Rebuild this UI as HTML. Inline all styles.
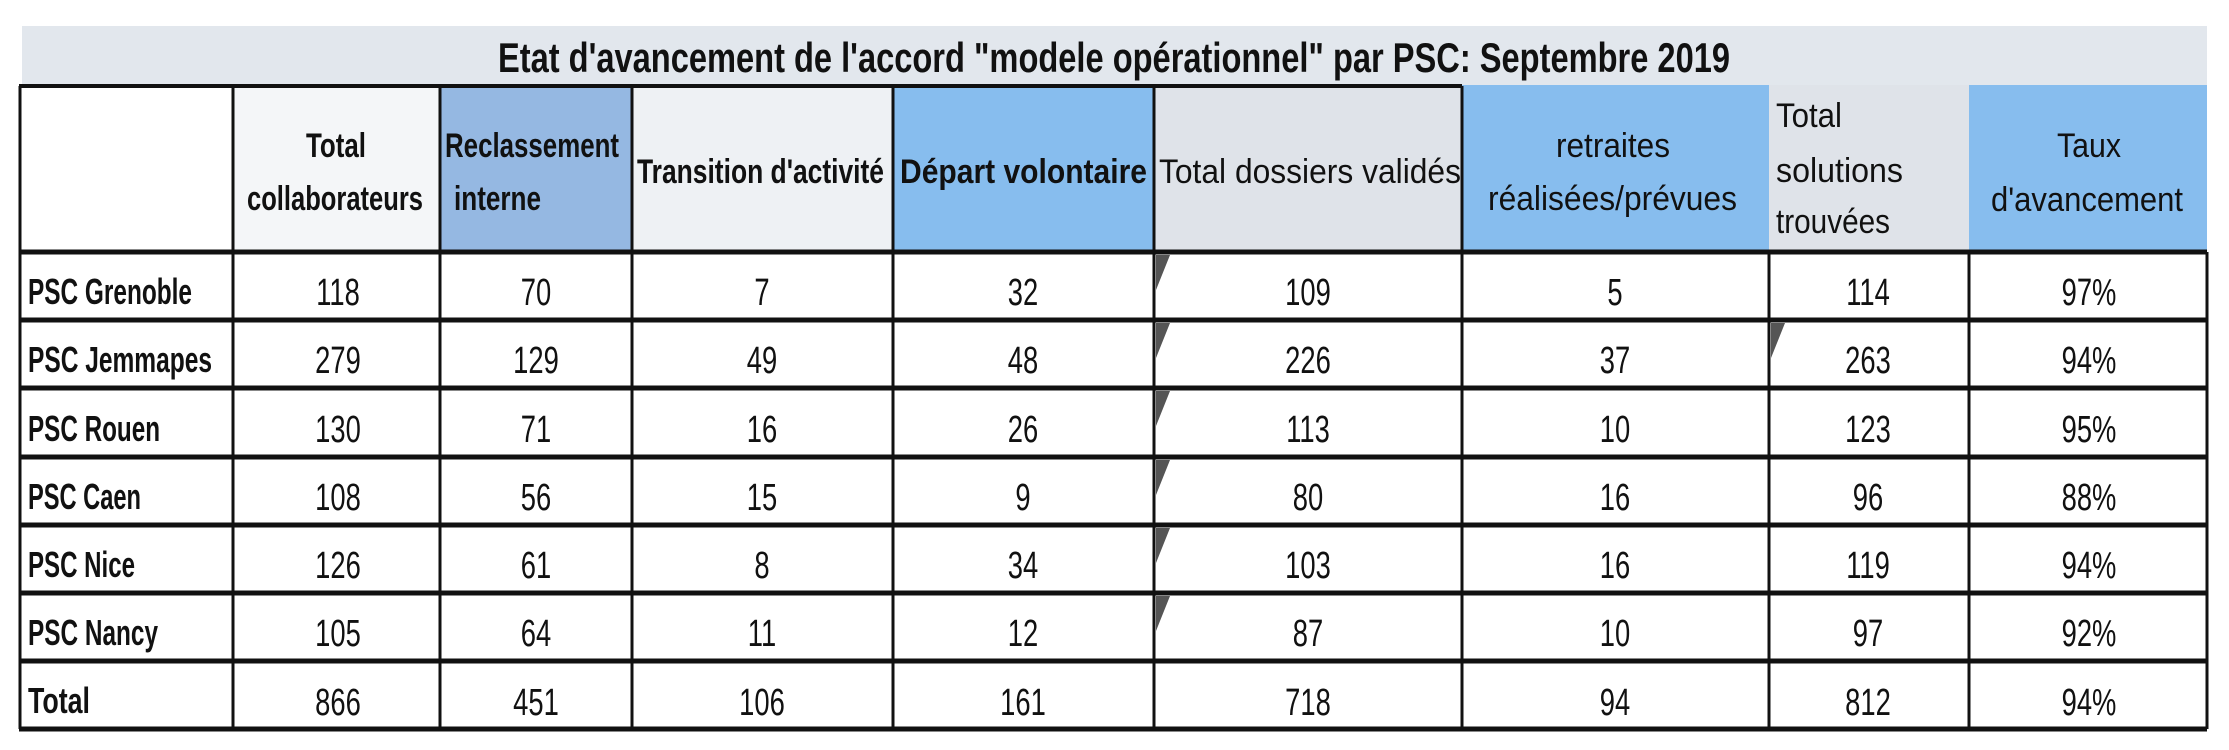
<!DOCTYPE html>
<html><head><meta charset="utf-8"><style>
html,body{margin:0;padding:0;background:#fff;}
svg{display:block;}
text{font-family:"Liberation Sans Narrow","Liberation Sans",sans-serif;fill:#111;}
.b{font-weight:bold;}
</style></head><body>
<svg width="2229" height="750" viewBox="0 0 2229 750" xmlns="http://www.w3.org/2000/svg">
<!-- title band -->
<rect x="22" y="26" width="2185" height="60" fill="#e2e7ed"/>
<text class="b" x="498" y="72" font-size="42" textLength="1232" lengthAdjust="spacingAndGlyphs">Etat d'avancement de l'accord "modele opérationnel" par PSC: Septembre 2019</text>
<!-- header fills -->
<rect x="20" y="85" width="213" height="167" fill="#fff"/>
<rect x="233" y="85" width="206" height="167" fill="#f4f6f8"/>
<rect x="439" y="85" width="193" height="167" fill="#95b8e2"/>
<rect x="632" y="85" width="261" height="167" fill="#eef1f4"/>
<rect x="893" y="85" width="261" height="167" fill="#87bdee"/>
<rect x="1154" y="85" width="308" height="167" fill="#dfe3e9"/>
<rect x="1462" y="85" width="307" height="167" fill="#87bdee"/>
<rect x="1769" y="85" width="200" height="167" fill="#dfe3e9"/>
<rect x="1969" y="85" width="238" height="167" fill="#87bdee"/>
<!-- grid -->
<g stroke="#111" stroke-width="3" fill="none">
<line x1="19" y1="86" x2="1462" y2="86" stroke-width="4"/>
<line x1="19" y1="252" x2="2207" y2="252" stroke-width="5"/>
<line x1="19" y1="320" x2="2207" y2="320" stroke-width="5"/>
<line x1="19" y1="388" x2="2207" y2="388" stroke-width="5"/>
<line x1="19" y1="457" x2="2207" y2="457" stroke-width="5"/>
<line x1="19" y1="525" x2="2207" y2="525" stroke-width="5"/>
<line x1="19" y1="593" x2="2207" y2="593" stroke-width="5"/>
<line x1="19" y1="661" x2="2207" y2="661" stroke-width="5"/>
<line x1="19" y1="729" x2="2207" y2="729" stroke-width="5"/>
<line x1="20" y1="86" x2="20" y2="729"/>
<line x1="233" y1="86" x2="233" y2="729"/>
<line x1="440" y1="86" x2="440" y2="729"/>
<line x1="632" y1="86" x2="632" y2="729"/>
<line x1="893" y1="86" x2="893" y2="729"/>
<line x1="1154" y1="86" x2="1154" y2="729"/>
<line x1="1462" y1="86" x2="1462" y2="729"/>
<line x1="1769" y1="252" x2="1769" y2="729"/>
<line x1="1969" y1="252" x2="1969" y2="729"/>
<line x1="2207" y1="252" x2="2207" y2="729"/>
</g>
<!-- comment triangles -->
<g fill="#555">
<polygon points="1156,255 1170,255 1156,290"/>
<polygon points="1156,323 1170,323 1156,358"/>
<polygon points="1156,391 1170,391 1156,426"/>
<polygon points="1156,460 1170,460 1156,495"/>
<polygon points="1156,528 1170,528 1156,563"/>
<polygon points="1156,596 1170,596 1156,631"/>
<polygon points="1771,323 1785,323 1771,358"/>
</g>
<!-- header text -->
<g class="b" font-size="34">
<text class="b" x="306" y="157" textLength="60" lengthAdjust="spacingAndGlyphs">Total</text>
<text class="b" x="247" y="210" textLength="176" lengthAdjust="spacingAndGlyphs">collaborateurs</text>
<text class="b" x="445" y="157" textLength="174" lengthAdjust="spacingAndGlyphs">Reclassement</text>
<text class="b" x="454" y="210" textLength="87" lengthAdjust="spacingAndGlyphs">interne</text>
<text class="b" x="637" y="183" textLength="247" lengthAdjust="spacingAndGlyphs">Transition d'activité</text>
<text class="b" x="900" y="183" textLength="247" lengthAdjust="spacingAndGlyphs">Départ volontaire</text>
</g>
<g font-size="34">
<text x="1159" y="183" textLength="302" lengthAdjust="spacingAndGlyphs">Total dossiers validés</text>
<text x="1556" y="157" textLength="114" lengthAdjust="spacingAndGlyphs">retraites</text>
<text x="1488" y="210" textLength="249" lengthAdjust="spacingAndGlyphs">réalisées/prévues</text>
<text x="1776" y="127" textLength="66" lengthAdjust="spacingAndGlyphs">Total</text>
<text x="1776" y="182" textLength="127" lengthAdjust="spacingAndGlyphs">solutions</text>
<text x="1776" y="233" textLength="114" lengthAdjust="spacingAndGlyphs">trouvées</text>
<text x="2057" y="157" textLength="64" lengthAdjust="spacingAndGlyphs">Taux</text>
<text x="1991" y="211" textLength="192" lengthAdjust="spacingAndGlyphs">d'avancement</text>
</g>
<!-- row labels -->
<g font-size="36">
<text class="b" x="28" y="304" textLength="164" lengthAdjust="spacingAndGlyphs">PSC Grenoble</text>
<text class="b" x="28" y="372" textLength="184" lengthAdjust="spacingAndGlyphs">PSC Jemmapes</text>
<text class="b" x="28" y="441" textLength="132" lengthAdjust="spacingAndGlyphs">PSC Rouen</text>
<text class="b" x="28" y="509" textLength="113" lengthAdjust="spacingAndGlyphs">PSC Caen</text>
<text class="b" x="28" y="577" textLength="107" lengthAdjust="spacingAndGlyphs">PSC Nice</text>
<text class="b" x="28" y="645" textLength="130" lengthAdjust="spacingAndGlyphs">PSC Nancy</text>
<text class="b" x="28" y="713" textLength="62" lengthAdjust="spacingAndGlyphs">Total</text>
</g>
<!-- numbers -->
<g font-size="38" text-anchor="middle">
<g transform="translate(0,305)">
<text transform="translate(338,0) scale(0.72,1)">118</text><text transform="translate(536,0) scale(0.72,1)">70</text><text transform="translate(762,0) scale(0.72,1)">7</text><text transform="translate(1023,0) scale(0.72,1)">32</text><text transform="translate(1308,0) scale(0.72,1)">109</text><text transform="translate(1615,0) scale(0.72,1)">5</text><text transform="translate(1868,0) scale(0.72,1)">114</text><text transform="translate(2089,0) scale(0.72,1)">97%</text>
</g>
<g transform="translate(0,373)">
<text transform="translate(338,0) scale(0.72,1)">279</text><text transform="translate(536,0) scale(0.72,1)">129</text><text transform="translate(762,0) scale(0.72,1)">49</text><text transform="translate(1023,0) scale(0.72,1)">48</text><text transform="translate(1308,0) scale(0.72,1)">226</text><text transform="translate(1615,0) scale(0.72,1)">37</text><text transform="translate(1868,0) scale(0.72,1)">263</text><text transform="translate(2089,0) scale(0.72,1)">94%</text>
</g>
<g transform="translate(0,442)">
<text transform="translate(338,0) scale(0.72,1)">130</text><text transform="translate(536,0) scale(0.72,1)">71</text><text transform="translate(762,0) scale(0.72,1)">16</text><text transform="translate(1023,0) scale(0.72,1)">26</text><text transform="translate(1308,0) scale(0.72,1)">113</text><text transform="translate(1615,0) scale(0.72,1)">10</text><text transform="translate(1868,0) scale(0.72,1)">123</text><text transform="translate(2089,0) scale(0.72,1)">95%</text>
</g>
<g transform="translate(0,510)">
<text transform="translate(338,0) scale(0.72,1)">108</text><text transform="translate(536,0) scale(0.72,1)">56</text><text transform="translate(762,0) scale(0.72,1)">15</text><text transform="translate(1023,0) scale(0.72,1)">9</text><text transform="translate(1308,0) scale(0.72,1)">80</text><text transform="translate(1615,0) scale(0.72,1)">16</text><text transform="translate(1868,0) scale(0.72,1)">96</text><text transform="translate(2089,0) scale(0.72,1)">88%</text>
</g>
<g transform="translate(0,578)">
<text transform="translate(338,0) scale(0.72,1)">126</text><text transform="translate(536,0) scale(0.72,1)">61</text><text transform="translate(762,0) scale(0.72,1)">8</text><text transform="translate(1023,0) scale(0.72,1)">34</text><text transform="translate(1308,0) scale(0.72,1)">103</text><text transform="translate(1615,0) scale(0.72,1)">16</text><text transform="translate(1868,0) scale(0.72,1)">119</text><text transform="translate(2089,0) scale(0.72,1)">94%</text>
</g>
<g transform="translate(0,646)">
<text transform="translate(338,0) scale(0.72,1)">105</text><text transform="translate(536,0) scale(0.72,1)">64</text><text transform="translate(762,0) scale(0.72,1)">11</text><text transform="translate(1023,0) scale(0.72,1)">12</text><text transform="translate(1308,0) scale(0.72,1)">87</text><text transform="translate(1615,0) scale(0.72,1)">10</text><text transform="translate(1868,0) scale(0.72,1)">97</text><text transform="translate(2089,0) scale(0.72,1)">92%</text>
</g>
<g transform="translate(0,715)">
<text transform="translate(338,0) scale(0.72,1)">866</text><text transform="translate(536,0) scale(0.72,1)">451</text><text transform="translate(762,0) scale(0.72,1)">106</text><text transform="translate(1023,0) scale(0.72,1)">161</text><text transform="translate(1308,0) scale(0.72,1)">718</text><text transform="translate(1615,0) scale(0.72,1)">94</text><text transform="translate(1868,0) scale(0.72,1)">812</text><text transform="translate(2089,0) scale(0.72,1)">94%</text>
</g>
</g>
</svg>
</body></html>
